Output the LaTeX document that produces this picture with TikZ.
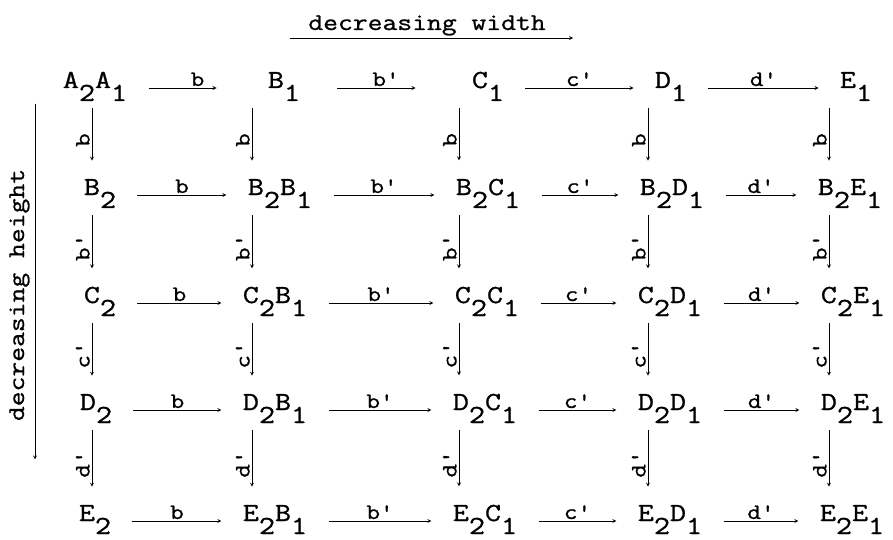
\documentclass[tikz,border=0pt]{standalone}
\usepackage{fontspec}
\setmonofont{Latin Modern Mono}[FakeStretch=1.2, FakeBold=1]

% lowered index, as the typewriter sets it
\newcommand{\dn}[1]{\raisebox{-13pt}{#1}}

\begin{document}
\begin{tikzpicture}[x=1pt, y=-1pt, >=stealth, line width=0.8pt,
    word/.style={anchor=base, inner sep=1pt, font=\ttfamily\fontsize{26}{30}\selectfont},
    heading/.style={anchor=base, inner sep=1pt, font=\ttfamily\fontsize{24}{28}\selectfont},
    hlabel/.style={midway, above, inner sep=1.5pt, font=\ttfamily\fontsize{22}{26}\selectfont},
    vlabel/.style={midway, rotate=90, anchor=south, inner sep=2pt, font=\ttfamily\fontsize{22}{26}\selectfont},
    hmove/.style={->, shorten <=20pt, shorten >=20pt},
    vmove/.style={->, shorten <=6pt, shorten >=17pt}]
    \useasboundingbox (0,0) rectangle (893,540);

    % Titles
    \node[heading] (wtitle) at (427,30) {decreasing width};
    \draw[->] ([shift={(-17,8)}]wtitle.base west) -- ([shift={(26,8)}]wtitle.base east);
    \node[heading, rotate=90] (htitle) at (24,295) {decreasing height};
    \draw[->] ([shift={(11,-64)}]htitle.base east) -- ([shift={(11,37)}]htitle.base west);

    % Columns of the down arrows
    \coordinate (colA) at (92,0);
    \coordinate (colB) at (252,0);
    \coordinate (colC) at (459,0);
    \coordinate (colD) at (648,0);
    \coordinate (colE) at (829,0);

    % Row A
    \node[word] (AA) at (95,88) {A\dn{2}A\dn{1}};
    \node[word] (AB) at (284,88) {B\dn{1}};
    \node[word] (AC) at (488,88) {C\dn{1}};
    \node[word] (AD) at (671,88) {D\dn{1}};
    \node[word] (AE) at (856,88) {E\dn{1}};

    % Row B
    \node[word] (BA) at (100,195) {B\dn{2}};
    \node[word] (BB) at (280,195) {B\dn{2}B\dn{1}};
    \node[word] (BC) at (488,195) {B\dn{2}C\dn{1}};
    \node[word] (BD) at (672,195) {B\dn{2}D\dn{1}};
    \node[word] (BE) at (850,195) {B\dn{2}E\dn{1}};

    % Row C
    \node[word] (CA) at (100,303) {C\dn{2}};
    \node[word] (CB) at (275,303) {C\dn{2}B\dn{1}};
    \node[word] (CC) at (487,303) {C\dn{2}C\dn{1}};
    \node[word] (CD) at (670,303) {C\dn{2}D\dn{1}};
    \node[word] (CE) at (853,303) {C\dn{2}E\dn{1}};

    % Row D
    \node[word] (DA) at (96,410) {D\dn{2}};
    \node[word] (DB) at (275,410) {D\dn{2}B\dn{1}};
    \node[word] (DC) at (485,410) {D\dn{2}C\dn{1}};
    \node[word] (DD) at (670,410) {D\dn{2}D\dn{1}};
    \node[word] (DE) at (853,410) {D\dn{2}E\dn{1}};

    % Row E
    \node[word] (EA) at (95,521) {E\dn{2}};
    \node[word] (EB) at (275,521) {E\dn{2}B\dn{1}};
    \node[word] (EC) at (485,521) {E\dn{2}C\dn{1}};
    \node[word] (ED) at (670,521) {E\dn{2}D\dn{1}};
    \node[word] (EE) at (852,521) {E\dn{2}E\dn{1}};

    % Arrows across
    \draw[hmove, shorten >=50pt] (AA.base east) -- (AB.base west) node[hlabel] {b};
    \draw[hmove, shorten <=36pt, shorten >=55pt] (AB.base east) -- (AC.base west) node[hlabel] {b'};
    \draw[hmove] (AC.base east) -- (AD.base west) node[hlabel] {c'};
    \draw[hmove] (AD.base east) -- (AE.base west) node[hlabel] {d'};

    \draw[hmove] (BA.base east) -- (BB.base west) node[hlabel] {b};
    \draw[hmove] (BB.base east) -- (BC.base west) node[hlabel] {b'};
    \draw[hmove] (BC.base east) -- (BD.base west) node[hlabel] {c'};
    \draw[hmove] (BD.base east) -- (BE.base west) node[hlabel] {d'};

    \draw[hmove] (CA.base east) -- (CB.base west) node[hlabel] {b};
    \draw[hmove] (CB.base east) -- (CC.base west) node[hlabel] {b'};
    \draw[hmove] (CC.base east) -- (CD.base west) node[hlabel] {c'};
    \draw[hmove] (CD.base east) -- (CE.base west) node[hlabel] {d'};

    \draw[hmove] (DA.base east) -- (DB.base west) node[hlabel] {b};
    \draw[hmove] (DB.base east) -- (DC.base west) node[hlabel] {b'};
    \draw[hmove] (DC.base east) -- (DD.base west) node[hlabel] {c'};
    \draw[hmove] (DD.base east) -- (DE.base west) node[hlabel] {d'};

    \draw[hmove] (EA.base east) -- (EB.base west) node[hlabel] {b};
    \draw[hmove] (EB.base east) -- (EC.base west) node[hlabel] {b'};
    \draw[hmove] (EC.base east) -- (ED.base west) node[hlabel] {c'};
    \draw[hmove] (ED.base east) -- (EE.base west) node[hlabel] {d'};

    % Arrows down
    \draw[vmove] (AA.south -| colA) -- (BA.north -| colA) node[vlabel] {b};
    \draw[vmove] (BA.south -| colA) -- (CA.north -| colA) node[vlabel] {b'};
    \draw[vmove] (CA.south -| colA) -- (DA.north -| colA) node[vlabel] {c'};
    \draw[vmove] (DA.south -| colA) -- (EA.north -| colA) node[vlabel] {d'};

    \draw[vmove] (AB.south -| colB) -- (BB.north -| colB) node[vlabel] {b};
    \draw[vmove] (BB.south -| colB) -- (CB.north -| colB) node[vlabel] {b'};
    \draw[vmove] (CB.south -| colB) -- (DB.north -| colB) node[vlabel] {c'};
    \draw[vmove] (DB.south -| colB) -- (EB.north -| colB) node[vlabel] {d'};

    \draw[vmove] (AC.south -| colC) -- (BC.north -| colC) node[vlabel] {b};
    \draw[vmove] (BC.south -| colC) -- (CC.north -| colC) node[vlabel] {b'};
    \draw[vmove] (CC.south -| colC) -- (DC.north -| colC) node[vlabel] {c'};
    \draw[vmove] (DC.south -| colC) -- (EC.north -| colC) node[vlabel] {d'};

    \draw[vmove] (AD.south -| colD) -- (BD.north -| colD) node[vlabel] {b};
    \draw[vmove] (BD.south -| colD) -- (CD.north -| colD) node[vlabel] {b'};
    \draw[vmove] (CD.south -| colD) -- (DD.north -| colD) node[vlabel] {c'};
    \draw[vmove] (DD.south -| colD) -- (ED.north -| colD) node[vlabel] {d'};

    \draw[vmove] (AE.south -| colE) -- (BE.north -| colE) node[vlabel] {b};
    \draw[vmove] (BE.south -| colE) -- (CE.north -| colE) node[vlabel] {b'};
    \draw[vmove] (CE.south -| colE) -- (DE.north -| colE) node[vlabel] {c'};
    \draw[vmove] (DE.south -| colE) -- (EE.north -| colE) node[vlabel] {d'};
\end{tikzpicture}
\end{document}
